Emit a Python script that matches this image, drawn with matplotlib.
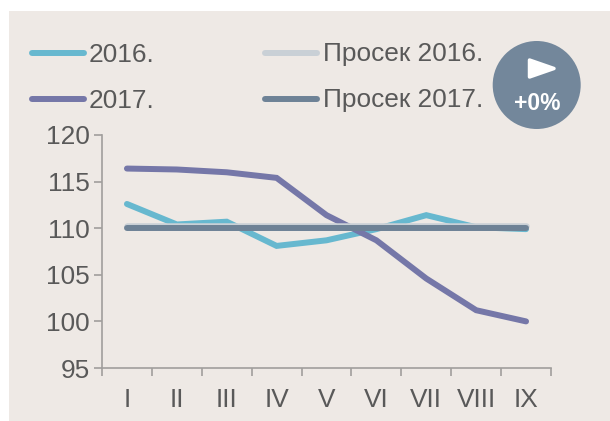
import matplotlib
matplotlib.use("Agg")
import matplotlib.pyplot as plt
from matplotlib.patches import Rectangle, Ellipse, Polygon

months = ["I", "II", "III", "IV", "V", "VI", "VII", "VIII", "IX"]
y2016 = [112.6, 110.4, 110.7, 108.1, 108.7, 109.9, 111.4, 110.1, 109.9]
y2017 = [116.4, 116.3, 116.0, 115.4, 111.4, 108.7, 104.6, 101.2, 100.0]
avg2016 = [110.2] * 9
avg2017 = [110.0] * 9
yticks = [95, 100, 105, 110, 115, 120]

W, H = 610, 421
BG = "#eee9e5"
TXT = "#595959"
AXC = "#a09e9c"
FS = 18.9

plt.rcParams["font.family"] = ["Liberation Sans", "DejaVu Sans"]

fig = plt.figure(figsize=(W / 100, H / 100), dpi=100, facecolor="white")

# panel background
fig.add_artist(Rectangle((9 / W, 0), 1 - 9 / W, 1 - 11 / H, transform=fig.transFigure,
                         facecolor=BG, edgecolor="none", zorder=-1))

ax = fig.add_axes([102 / W, 1 - 368 / H, (551 - 102) / W, (368 - 135) / H])
ax.patch.set_alpha(0)

x = list(range(len(months)))
lw = 4.3
ax.plot(x, y2016, color="#67b8cf", lw=lw, solid_capstyle="round", solid_joinstyle="miter", clip_on=False)
ax.plot(x, y2017, color="#7577a8", lw=lw, solid_capstyle="round", solid_joinstyle="miter", clip_on=False)
ax.plot(x, avg2016, color="#c9d0d6", lw=lw + 0.4, solid_capstyle="round", clip_on=False)
ax.plot(x, avg2017, color="#6e8296", lw=lw, solid_capstyle="round", clip_on=False)

ax.set_xlim(-0.5, 8.5)
ax.set_ylim(95, 120)
ax.set_yticks(yticks)
ax.set_xticks([i - 0.5 for i in range(10)], minor=False)
ax.set_xticklabels([""] * 10)
ax.set_xticks(x, minor=True)
ax.set_xticklabels(months, minor=True)
ax.tick_params(axis="x", which="minor", length=0, pad=14.7, labelsize=FS, labelcolor=TXT)
ax.tick_params(axis="x", which="major", length=5.5, width=1.2, color=AXC, direction="out")
ax.tick_params(axis="y", length=5.5, width=1.2, color=AXC, pad=3.5, labelsize=FS, labelcolor=TXT)
for s in ["top", "right"]:
    ax.spines[s].set_visible(False)
for s in ["left", "bottom"]:
    ax.spines[s].set_color(AXC)
    ax.spines[s].set_linewidth(1.2)

# legend, placed by hand to match the two row layout
def px(xp, yp):
    return xp / W, 1 - yp / H

legend = [("2016.", "#67b8cf", 32, 89, 53), ("2017.", "#7577a8", 32, 89, 99),
          ("Просек 2016.", "#c9d0d6", 265, 323, 53), ("Просек 2017.", "#6e8296", 265, 323, 99)]
for label, col, x0, xt, yp in legend:
    fig.add_artist(plt.Line2D([x0 / W, (x0 + 52) / W], [1 - yp / H] * 2, color=col, lw=lw,
                              solid_capstyle="round", transform=fig.transFigure))
    fig.text(*px(xt, yp + 1.5), label, fontsize=FS, color=TXT, va="center", ha="left")

# badge
fig.add_artist(Ellipse(px(536.7, 85), 88 / W, 88 / H, transform=fig.transFigure,
                       facecolor="#73879b", edgecolor="none"))
fig.add_artist(Polygon([px(529.5, 60), px(529.5, 77), px(554, 68.5)], closed=True, transform=fig.transFigure,
                       facecolor="white", edgecolor="white", lw=2.5, joinstyle="round"))
fig.text(*px(537, 103.5), "+0%", fontsize=16.5, color="white", fontweight="bold", ha="center", va="center")

fig.savefig("out.png", dpi=100, facecolor="white")
